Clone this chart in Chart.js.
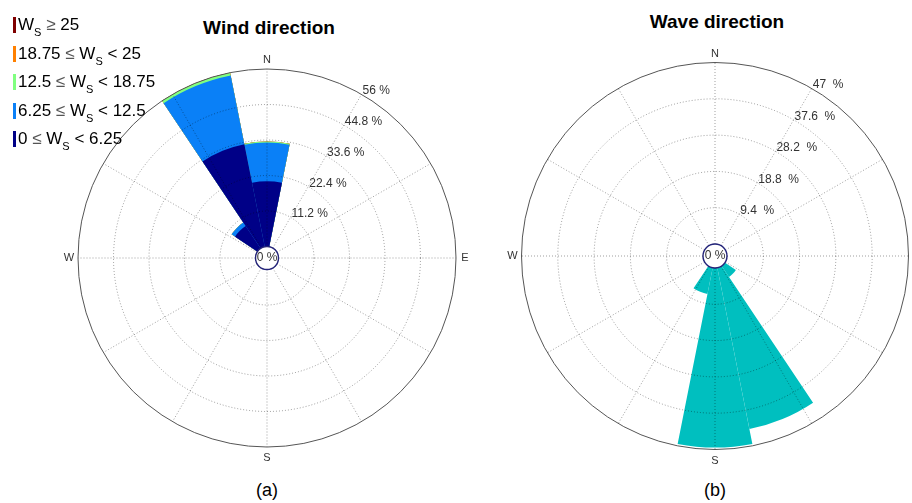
<!DOCTYPE html>
<html>
<head>
<meta charset="utf-8">
<script src="https://cdn.jsdelivr.net/npm/chart.js@4.4.0/dist/chart.umd.min.js"></script>
<style>
  html, body { margin: 0; padding: 0; width: 912px; height: 503px; overflow: hidden; background: #fff; }
  body { position: relative; font-family: "Liberation Sans", Arial, sans-serif; color: #000; }
  canvas { position: absolute; }
  .title { position: absolute; font-weight: bold; font-size: 19px; white-space: nowrap; transform: translate(-50%, -50%); }
  .caption { position: absolute; font-size: 18px; white-space: nowrap; transform: translate(-50%, -50%); }
  #legend { position: absolute; left: 13px; top: 17px; z-index: 2; }
  .item { position: relative; height: 28.5px; font-size: 17px; white-space: nowrap; }
  .item i { position: absolute; left: 0; top: 0; width: 3px; height: 16px; }
  .item span { position: absolute; left: 5px; top: -1px; line-height: 18px; }
  .item sub { font-size: 11px; vertical-align: -6px; line-height: 0; }
  .item b { font-weight: normal; color: #555; }
</style>
</head>
<body>
<div class="title" style="left:269px; top:28px;">Wind direction</div>
<div class="title" style="left:717px; top:22px;">Wave direction</div>
<div class="caption" style="left:267px; top:490px;">(a)</div>
<div class="caption" style="left:715px; top:490px;">(b)</div>
<div id="legend"></div>
<canvas id="wind" width="424" height="424" style="left:55px; top:46px;"></canvas>
<canvas id="wave" width="424" height="424" style="left:503px; top:44px;"></canvas>
<script>
// 16 sectors, clockwise from north
const directions = ['N', 'NNE', 'NE', 'ENE', 'E', 'ESE', 'SE', 'SSE', 'S', 'SSW', 'SW', 'WSW', 'W', 'WNW', 'NW', 'NNW'];

// wind frequency (%) per speed class (m/s)
const wind0to6 = [20.6, 0, 0, 0, 0, 0, 0, 0, 0, 0, 0, 0, 0, 0, 8.5, 33.0];
const wind6to12 = [12.2, 0, 0, 0, 0, 0, 0, 0, 0, 0, 0, 0, 0, 0, 1.3, 22.1];
const wind12to18 = [0.3, 0, 0, 0, 0, 0, 0, 0, 0, 0, 0, 0, 0, 0, 0, 0.9];
const wind18to25 = [0, 0, 0, 0, 0, 0, 0, 0, 0, 0, 0, 0, 0, 0, 0, 0];
const wind25up = [0, 0, 0, 0, 0, 0, 0, 0, 0, 0, 0, 0, 0, 0, 0, 0];
const windTicks = [0, 11.2, 22.4, 33.6, 44.8, 56];

// wave direction frequency (%)
const waveFreq = [0, 0, 0, 0, 0, 0, 3.4, 42.6, 46.5, 6.9, 0, 0, 0, 0, 0, 0];
const waveTicks = [0, 9.4, 18.8, 28.2, 37.6, 47];

const classLabels = [
  '0 <b>&le;</b> W<sub>S</sub> &lt; 6.25',
  '6.25 <b>&le;</b> W<sub>S</sub> &lt; 12.5',
  '12.5 <b>&le;</b> W<sub>S</sub> &lt; 18.75',
  '18.75 <b>&le;</b> W<sub>S</sub> &lt; 25',
  'W<sub>S</sub> <b>&ge;</b> 25'
];
const classColors = ['#000087', '#0a80f7', '#80ff80', '#ff8000', '#800000'];
const windClasses = [wind0to6, wind6to12, wind12to18, wind18to25, wind25up];

// legend, top class first
const legend = document.getElementById('legend');
for (let k = classLabels.length - 1; k >= 0; k--) {
  const d = document.createElement('div');
  d.className = 'item';
  d.innerHTML = '<i style="background:' + classColors[k] + '"></i><span>' + classLabels[k] + '</span>';
  legend.appendChild(d);
}

const roseDecor = {
  id: 'roseDecor',
  afterDatasetsDraw(chart, args, opts) {
    const s = chart.scales.r, ctx = chart.ctx;
    const r0 = s.getDistanceFromCenterForValue(0);
    const r1 = s.getDistanceFromCenterForValue(opts.ticks[opts.ticks.length - 1]);
    ctx.save();
    ctx.strokeStyle = 'rgba(0,0,0,0.38)';
    ctx.lineWidth = 1;
    ctx.setLineDash([1, 2]);
    for (let a = 0; a < 360; a += 30) {
      const t = (a - 90) * Math.PI / 180;
      ctx.beginPath();
      ctx.moveTo(s.xCenter + r0 * Math.cos(t), s.yCenter + r0 * Math.sin(t));
      ctx.lineTo(s.xCenter + r1 * Math.cos(t), s.yCenter + r1 * Math.sin(t));
      ctx.stroke();
    }
    ctx.restore();
  },
  afterDraw(chart, args, opts) {
    const s = chart.scales.r, ctx = chart.ctx;
    const cx = s.xCenter, cy = s.yCenter;
    const r0 = s.getDistanceFromCenterForValue(0);
    const r1 = s.getDistanceFromCenterForValue(opts.ticks[opts.ticks.length - 1]);
    ctx.save();
    // centre hole
    ctx.beginPath();
    ctx.arc(cx, cy, r0, 0, Math.PI * 2);
    ctx.fillStyle = '#fff';
    ctx.fill();
    ctx.strokeStyle = '#24247a';
    ctx.lineWidth = 1.4;
    ctx.stroke();
    ctx.fillStyle = '#333';
    ctx.font = '12px "Liberation Sans", Arial, sans-serif';
    ctx.textAlign = 'center';
    ctx.textBaseline = 'middle';
    ctx.fillText('0 %', cx, cy);
    // ring labels along the 30 deg line
    ctx.textAlign = 'left';
    ctx.textBaseline = 'alphabetic';
    const t = -60 * Math.PI / 180;
    opts.ticks.forEach((v) => {
      if (v === 0) return;
      const d = s.getDistanceFromCenterForValue(v);
      ctx.fillText(v + opts.suffix, cx + d * Math.cos(t) + 1, cy + d * Math.sin(t));
    });
    // compass letters
    ctx.font = '11px "Liberation Sans", Arial, sans-serif';
    ctx.textAlign = 'center';
    ctx.textBaseline = 'middle';
    ctx.fillText('N', cx, cy - r1 - 9);
    ctx.fillText('S', cx, cy + r1 + 11);
    ctx.fillText('E', cx + r1 + 9, cy);
    ctx.fillText('W', cx - r1 - 9, cy);
    ctx.restore();
  }
};

function roseScale(ticks, outerPx, holePx, R) {
  const last = ticks.length - 1;
  const k = (outerPx - holePx) / ticks[last];
  const min = -holePx / k;
  return {
    type: 'radialLinear',
    min: min,
    max: min + R / k,
    bounds: 'data',
    startAngle: -11.25,
    afterBuildTicks: (axis) => { axis.ticks = ticks.map((v) => ({ value: v })); },
    ticks: { display: false },
    pointLabels: { display: false },
    angleLines: { display: false },
    grid: {
      circular: true,
      z: 1,
      lineWidth: 1,
      color: (c) => c.index === last ? '#555' : 'rgba(0,0,0,0.38)'
    },
    border: { dash: (c) => c.index === last ? [] : [1, 2] }
  };
}

function baseOptions(ticks, suffix, outerPx, holePx) {
  return {
    responsive: false,
    animation: false,
    events: [],
    layout: { padding: 0 },
    elements: { arc: { borderWidth: 0 } },
    plugins: {
      legend: { display: false },
      tooltip: { enabled: false },
      roseDecor: { ticks: ticks, suffix: suffix }
    },
    scales: { r: roseScale(ticks, outerPx, holePx, 212) }
  };
}

// cumulative stacks: smallest class on top (dataset 0 is drawn last)
const windDatasets = [];
let running = directions.map(() => 0);
windClasses.forEach((vals, k) => {
  running = running.map((r, i) => r + vals[i]);
  windDatasets.push({ label: classLabels[k], data: running.slice(), backgroundColor: classColors[k] });
});

new Chart(document.getElementById('wind'), {
  type: 'polarArea',
  data: { labels: directions, datasets: windDatasets },
  options: baseOptions(windTicks, ' %', 189, 11.5),
  plugins: [roseDecor]
});

new Chart(document.getElementById('wave'), {
  type: 'polarArea',
  data: { labels: directions, datasets: [{ label: 'Wave direction', data: waveFreq, backgroundColor: '#00bfbf' }] },
  options: baseOptions(waveTicks, '  %', 193.5, 12),
  plugins: [roseDecor]
});
</script>
</body>
</html>
